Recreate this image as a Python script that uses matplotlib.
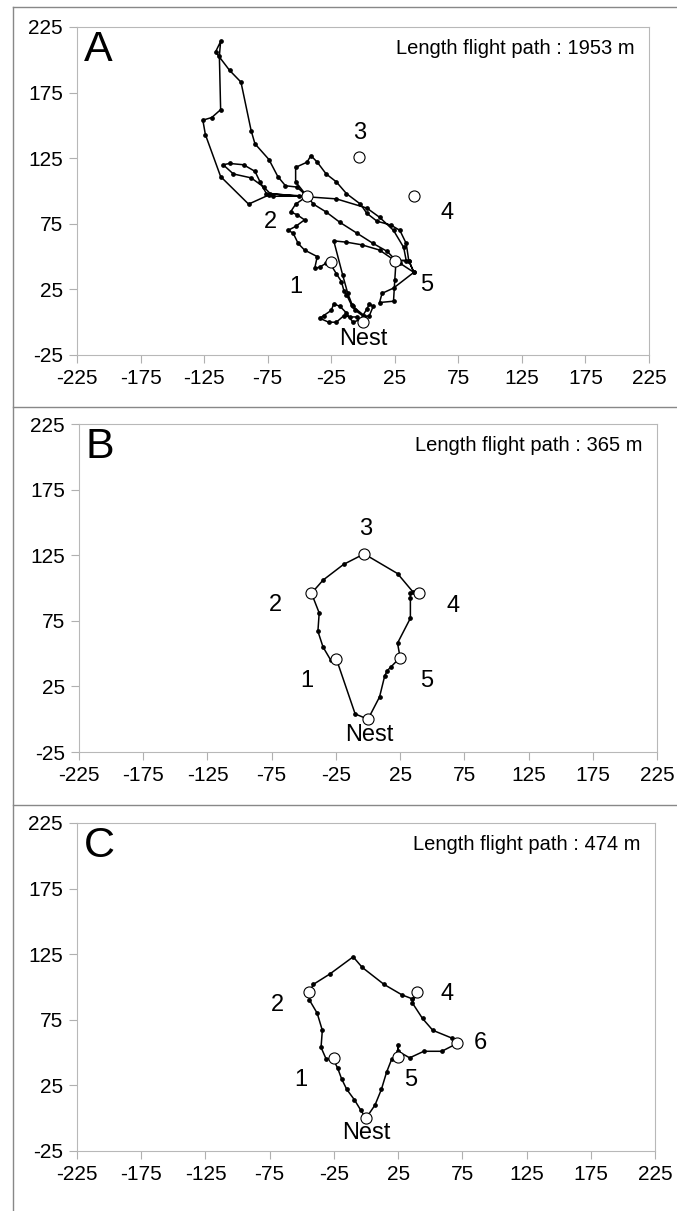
import matplotlib
matplotlib.use("Agg")
import matplotlib.pyplot as plt
from matplotlib.lines import Line2D

plt.rcParams['font.family'] = ['Liberation Sans', 'DejaVu Sans']
plt.rcParams['axes.unicode_minus'] = False

# waypoints (open circles)
wp_x = [0, -25, -44, -3, 40, 25]
wp_y = [0, 46, 96, 126, 96, 47]
c_wp_x = [0, -25, -44, 40, 25, 71]
c_wp_y = [0, 46, 96, 96, 47, 57]

# panel A flight path (x, y in m)
a_x = [0, -1, -5, -10, -15, -21, -27, -34, -31, -25, -23, -18, -13, -8, -2, 3, 5, 8, 5, 1,
       -6, -9, -13, -15, -17, -21, -26,
       -29, -34, -38, -36, -46, -51, -55, -59, -53, -46, -52, -57, -53, -44,
       -71, -74, -90, -112, -124, -126, -119, -112, -113, -112, -116, -105, -96, -88, -85,
       -74, -67, -61, -52, -44,
       -76, -81, -85, -94, -105, -110, -102, -88, -78, -73,
       -50, -21, 3, 13, 24, 32, 34, 25,
       36, 40, 24, 15, 13, 24, 25, 26,
       19, 8, -5, -18, -29, -39, -44,
       -53, -53, -44, -41, -36, -29, -21, -13, -2, 3, 11, 22, 29, 34, 36, 40, 29, 25,
       13, -1, -13, -23, -16, -12, -8, 1, 0]
a_y = [0, -2, 4, 4, 5, 0, 0, 3, 5, 9, 14, 12, 7, 0, 2, 10, 14, 12, 5, 4,
       9, 13, 21, 24, 31, 37, 45,
       45, 42, 41, 50, 55, 60, 68, 70, 73, 78, 82, 84, 90, 96,
       96, 97, 90, 111, 143, 154, 156, 162, 203, 214, 206, 192, 183, 146, 136,
       124, 111, 104, 103, 96,
       98, 107, 115, 120, 121, 120, 113, 110, 103, 98,
       96, 94, 87, 80, 70, 57, 47, 47,
       47, 38, 26, 22, 15, 16, 32, 47,
       54, 60, 68, 76, 84, 90, 96,
       107, 118, 122, 127, 122, 113, 107, 98, 90, 83, 77, 74, 70, 60, 47, 38, 45, 47,
       55, 59, 61, 62, 36, 22, 12, 5, 0]

# panel B flight path
b_x = [0, -10, -25, -29, -35, -39, -38, -44, -35, -19, -3, 23, 35, 40, 33, 33, 33, 23, 25,
       18, 15, 13, 9, 0]
b_y = [0, 4, 47, 45, 55, 67, 81, 96, 106, 118, 126, 111, 97, 96, 96, 92, 77, 58, 47,
       40, 37, 33, 17, 0]

# panel C flight path
c_x = [0, -4, -9, -15, -19, -22, -26, -31, -35, -34, -38, -44, -44, -41, -28, -10, -3, 14,
       28, 36, 40, 36, 44, 52, 67, 71, 59, 45, 34, 25, 25, 25, 20, 16, 12, 7, 0]
c_y = [0, 6, 14, 22, 30, 38, 46, 45, 54, 67, 80, 90, 96, 102, 110, 123, 115, 102,
       94, 91, 96, 88, 76, 67, 61, 57, 51, 51, 46, 51, 56, 47, 45, 35, 22, 10, 0]

# labels
a_lab = [("1", -53, 27), ("2", -73, 76), ("3", -3, 144), ("4", 66, 83), ("5", 50, 28),
         ("Nest", 0, -13)]
b_lab = [("1", -48, 29), ("2", -72, 87), ("3", -2, 145), ("4", 66, 86), ("5", 46, 29),
         ("Nest", 1, -12)]
c_lab = [("1", -51, 29), ("2", -69, 86), ("4", 63, 95), ("5", 35, 29), ("6", 89, 57),
         ("Nest", 0, -11)]
lengths = [1953, 365, 474]
letters = ["A", "B", "C"]

xticks = [-225, -175, -125, -75, -25, 25, 75, 125, 175, 225]
yticks = [-25, 25, 75, 125, 175, 225]

W, H = 677, 1211
fig = plt.figure(figsize=(W / 100, H / 100), dpi=100)

# axes boxes in pixels: left, right, top, bottom
boxes = [(77, 649, 27, 355), (79, 657, 424, 752), (77, 655, 823, 1151)]
paths = [(a_x, a_y, a_lab, wp_x, wp_y), (b_x, b_y, b_lab, wp_x, wp_y),
         (c_x, c_y, c_lab, c_wp_x, c_wp_y)]

for (l, r, t, b), (px, py, labs, wx, wy), let, ln in zip(boxes, paths, letters, lengths):
    ax = fig.add_axes([l / W, 1 - b / H, (r - l) / W, (b - t) / H])
    ax.plot(px, py, "-o", color="black", lw=1.1, ms=2.4, zorder=2)
    ax.plot(wx, wy, "o", ms=8, mfc="white", mec="black", mew=0.8, zorder=3)
    for s, x, y in labs:
        ax.text(x, y, s, fontsize=17, ha="center", va="center")
    ax.text(0.012, 0.99, let, transform=ax.transAxes, fontsize=31, ha="left", va="top")
    ax.text(0.975, 0.962, f"Length flight path : {ln} m", transform=ax.transAxes,
            fontsize=14.5, ha="right", va="top")
    ax.set_xlim(-225, 225)
    ax.set_ylim(-25, 225)
    ax.set_xticks(xticks)
    ax.set_yticks(yticks)
    ax.tick_params(direction="out", length=6, width=0.8, color="#b0b0b0",
                   labelsize=15, pad=4)
    for sp in ax.spines.values():
        sp.set_color("#b8b8b8")
        sp.set_linewidth(0.8)

# outer frame lines
for y in (7, 407, 805):
    fig.add_artist(Line2D([13 / W, 1], [1 - y / H, 1 - y / H], color="#888888", lw=1))
fig.add_artist(Line2D([13 / W, 13 / W], [0, 1 - 7 / H], color="#888888", lw=1))

fig.savefig("out.png", dpi=100)
